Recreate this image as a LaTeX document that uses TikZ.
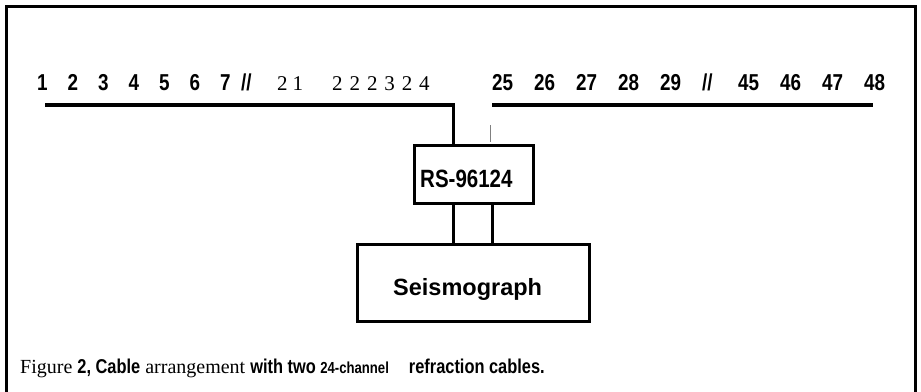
\documentclass[tikz,border=0pt]{standalone}
\usepackage{fontspec}
\setmainfont{Liberation Serif}
\setsansfont{Liberation Sans}
\newfontfamily\narrowsans[FakeStretch=0.82]{Liberation Sans}
\usetikzlibrary{positioning, calc}

\tikzset{
  cable/.style={line width=3.5pt},
  lead/.style={line width=3pt},
  boxed/.style={draw, line width=3pt, inner sep=0pt},
  chan/.style={anchor=base west, inner sep=0pt, font=\narrowsans\bfseries\fontsize{23}{26}\selectfont},
  chanser/.style={anchor=base west, inner sep=0pt, font=\fontsize{21}{24}\selectfont},
  label/.style={anchor=base west, inner sep=0pt}
}

\begin{document}
\begin{tikzpicture}[x=1pt, y=-1pt]
\useasboundingbox (0,0) rectangle (921,391);
\clip (0,0) rectangle (921,391);

% outer frame (runs off the bottom)
\draw[line width=3pt] (6.5,400) -- (6.5,6.5) -- (915.5,6.5) -- (915.5,400);

% channel numbers, first cable
\foreach \n [count=\i from 0] in {1,...,7}
  \node[chan] (c\n) at (37+30.5*\i, 90) {\n};
\node[chan] (sl) at (241,90) {//};
\node[chanser] (c21) at (277,90) {2\kern5pt1};
\foreach \d [count=\i from 0] in {2,2,2,3,2,4}
  \node[chanser] (d\i) at (332+17.4*\i, 90) {\d};

% channel numbers, second cable
\foreach \n [count=\i from 0] in {25,...,29}
  \node[chan] (c\n) at (492+42*\i, 90) {\n};
\node[chan] (sr) at (702,90) {//};
\foreach \n [count=\i from 0] in {45,...,48}
  \node[chan] (c\n) at (738+42*\i, 90) {\n};

% cables
\coordinate (la) at (45,105);
\coordinate (lb) at (455,105);
\coordinate (ld) at (453.5,105);
\coordinate (ra) at (492,105);
\coordinate (rb) at (873,105);
\draw[cable] (la) -- (lb);
\draw[cable] (ra) -- (rb);

% roll switch and seismograph
\node[boxed, minimum width=119, minimum height=58] (rs) at (473.5,174) {};
\node[label, font=\narrowsans\bfseries\fontsize{25}{28}\selectfont] (rslabel) at (420,187) {RS-96124};
\node[boxed, minimum width=232, minimum height=77] (seis) at (473,282.5) {};
\node[label, font=\sffamily\bfseries\fontsize{23.5}{27}\selectfont] (seislabel) at (393,295) {Seismograph};

% leads
\draw[lead] (ld) -- (ld |- rs.north);
\coordinate (ta) at (490,125);
\coordinate (tb) at (490,142);
\draw[gray, line width=0.8pt] (ta) -- (tb);
\coordinate (p1) at (453.5,224);
\coordinate (p2) at (492,224);
\draw[lead] (p1 |- rs.south) -- (p1 |- seis.north);
\draw[lead] (p2 |- rs.south) -- (p2 |- seis.north);

% caption
\node[label] (cap) at (20,373) {\fontsize{20}{24}\selectfont Figure {\narrowsans\bfseries 2, Cable} arrangement {\narrowsans\bfseries with two {\fontsize{16}{18}\selectfont 24-channel}}\hspace{20pt}{\narrowsans\bfseries refraction cables.}};

\end{tikzpicture}
\end{document}
